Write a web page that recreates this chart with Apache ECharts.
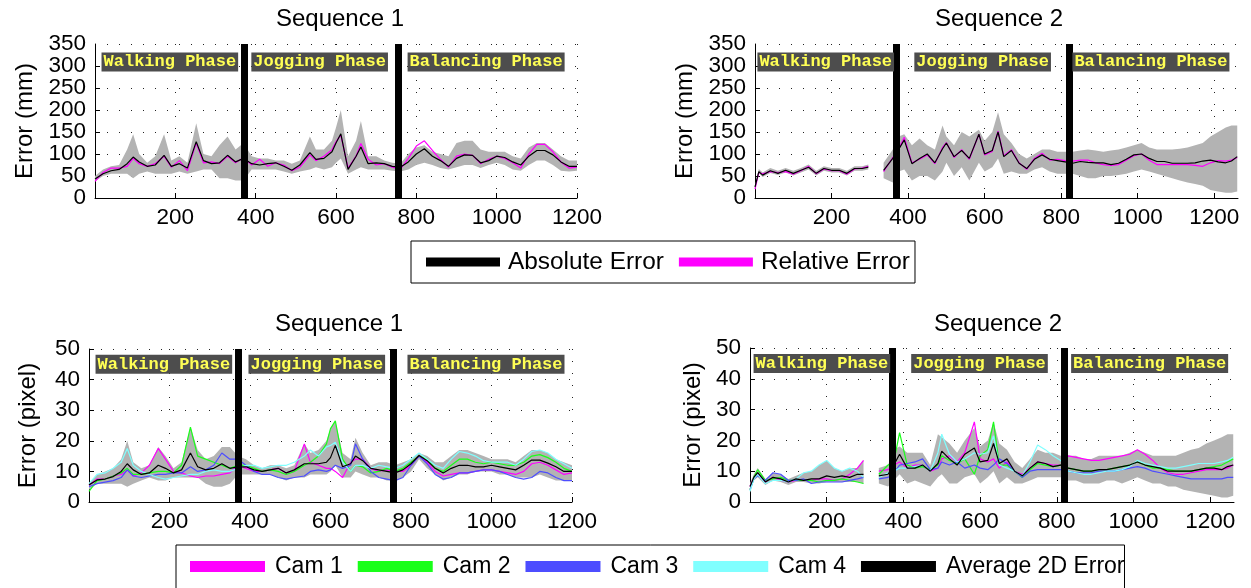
<!DOCTYPE html>
<html>
<head>
<meta charset="utf-8">
<title>Error per phase</title>
<script src="https://cdn.jsdelivr.net/npm/echarts@6.0.0/dist/echarts.min.js"></script>
<style>
html,body{margin:0;padding:0;width:100%;height:100%;background:#fff;}
#main{width:1251px;height:588px;}
</style>
</head>
<body>
<div id="main"></div>
<script>
// ---- frames (x values) ----
var framesS1 = [0,20,40,60,80,95,110,130,
  150,172,190,210,230,252,270,290,
  310,330,350,370,390,410,430,450,
  470,490,510,535,550,570,590,600,
  612,630,650,662,680,700,720,740,
  760,780,800,820,840,860,880,900,
  920,940,960,980,1000,1020,1040,1060,
  1080,1100,1120,1140,1160,1180,1200];
var framesS2 = [0,10,20,40,60,80,100,120,
  140,160,180,200,220,240,260,280,
  296,316,336,360,375,390,410,430,
  450,470,490,500,520,540,560,585,
  600,620,635,650,670,690,710,730,
  750,770,790,810,830,850,870,890,
  910,930,950,970,990,1010,1030,1050,
  1070,1090,1110,1130,1150,1170,1190,1210,
  1230,1245,1260];

// ---- 3D error (mm) ----
var s1AbsErr = [43,55,62,65,78,93,82,72,
  75,97,72,78,68,128,85,78,
  80,97,82,90,78,75,78,80,
  72,63,75,103,88,90,105,125,
  146,65,95,116,78,80,78,72,
  70,82,100,112,95,85,72,90,
  98,97,80,85,95,92,82,75,
  95,108,108,98,82,72,72];
var s1RelErr = [38,58,68,68,72,90,78,72,
  78,95,70,85,62,125,80,82,
  78,95,80,92,75,88,72,80,
  75,62,70,98,85,95,110,128,
  143,68,95,124,88,75,78,70,
  65,90,118,130,108,88,70,95,
  100,97,78,88,95,90,80,68,
  100,122,122,105,82,68,70];
var s1BandLo3d = [38,50,55,55,55,45,55,60,
  55,55,55,60,55,60,65,65,
  45,45,40,40,65,65,65,65,
  60,55,60,65,70,65,70,80,
  90,55,65,70,65,65,65,62,
  60,65,75,80,75,68,65,70,
  75,75,68,75,80,75,65,62,
  75,85,85,75,62,60,62];
var s1BandHi3d = [50,65,72,75,110,145,100,80,
  95,145,85,95,80,170,100,95,
  120,140,110,125,95,90,90,85,
  85,78,85,140,110,110,130,160,
  200,95,130,175,95,95,85,80,
  78,100,115,120,105,100,95,125,
  130,130,110,105,105,105,95,90,
  115,125,125,110,95,85,85];

var s2AbsErr = [25,60,52,62,56,63,56,63,
  70,56,67,63,63,56,67,67,
  70,null,63,90,110,132,78,90,
  100,80,112,125,94,108,90,145,
  100,108,150,94,108,79,67,88,
  98,88,85,82,79,83,81,80,
  80,76,79,88,98,100,90,83,
  83,79,79,79,80,84,86,82,
  80,84,94];
var s2RelErr = [20,58,55,60,58,60,54,62,
  72,55,66,62,62,54,66,68,
  72,null,60,92,112,138,80,88,
  98,78,115,126,92,110,88,145,
  98,106,152,96,110,80,65,90,
  102,86,88,85,84,86,86,80,
  76,74,76,86,96,100,86,76,
  76,76,76,76,74,72,80,85,
  84,86,92];
var s2BandLo3d = [18,56,48,57,52,58,51,58,
  65,51,62,58,58,51,62,62,
  65,null,45,35,60,65,40,50,
  50,40,60,80,50,70,40,80,
  60,70,90,55,60,55,55,65,
  70,60,55,55,55,50,45,45,
  50,50,52,55,60,65,60,55,
  50,45,40,35,32,28,18,15,
  12,12,15];
var s2BandHi3d = [28,66,58,68,62,68,62,68,
  76,62,72,68,68,62,72,72,
  76,null,80,110,140,145,120,135,
  120,110,165,140,120,150,140,155,
  130,150,195,145,125,100,90,100,
  110,110,105,105,105,108,110,108,
  105,108,110,115,120,125,115,110,
  110,110,112,115,120,125,140,150,
  160,165,165];

// ---- 2D error (pixel) ----
var s1Cam1 = [5.5,7.5,7.5,8.5,9,10.5,8.5,9.5,
  12,17.5,14,10,9.5,8.5,8,8.5,
  8.5,9,9.5,12,11,10,10,10.5,
  11,9.5,10,19,13,12,11,11,
  10,8,13,14,14,11,10,10.5,
  10,10,12,15,13,10,8.5,9,
  9.5,9.5,10,10.5,10.5,10,9.5,9,
  10,12.5,13,12,10.5,9,9.5];
var s1Cam2 = [3.5,7,7.5,8.5,9.5,11,9,9,
  9.5,10,10,9.5,12,24.5,15,14,
  13,12,11,12,12,11,10,10.5,
  10,9,10,12,13,15,19,24,
  26.5,14,10,12,11.5,9.5,10,11,
  10,11,13,15,14,11,10,12,
  14,14,13,12.5,13,12.5,12,12,
  13,15,15.5,14.5,13,11,10];
var s1Cam3 = [5,6,6.5,7,8,10.5,8.5,8,
  8.5,9,9,9.5,9.5,11.5,10,10.5,
  12,16,14,14,12,10,9,9,
  8,7.5,8,8.5,10,10.5,10,10.5,
  12,11,12,19,14,10,8,7.5,
  7,8,12,15,12.5,9,7.5,8,
  9.5,9.5,10,10.5,10.5,10,9,8,
  7.5,8,10,9.5,8,7,7];
var s1Cam4 = [6,9,9.5,11,13,17.5,12,10,
  9,8,7.5,8,8.5,9,9,10,
  10.5,10,10,11,12,12,11,11.5,
  12,12,13,15,17,15,18,18.5,
  19.5,13,10,12,12,11,12,11.5,
  11,12,14,16,14,12,11,14,
  16.5,16,15,13.5,13,13,13,12,
  14,16.5,17,16,14,12.5,11];
var s1Avg2d = [5.6,7.2,7.5,8.3,10,12.5,10.5,9,
  9.5,12,11,9.5,10.5,16,11.5,10.5,
  11,12.5,11,11.5,11.5,10.5,10,10.5,
  11,9.5,10.5,12.5,12.5,12.5,13,14.5,
  18.5,11.5,12.5,15,13.5,11,10.5,10,
  9.5,10.5,12.5,15.2,13.5,11,9.5,11,
  12,12,11.5,11.5,12,11.5,11,10.5,
  12,13.7,13.7,12.7,11.5,10,10];
var s1BandLo2d = [4,6,6,6,6,5,6,7,
  8,7,7,8,8,8,8,6,
  5,5,6,9,9,9,9,9,
  8,7,8,8,9,9,9,10,
  12,8,8,10,9,8,8,7,
  7,8,10,14,11,9,7,8,
  9,9,10,10,10,9,9,8,
  8,8,9,8,7,7,7];
var s1BandHi2d = [6,9,10,11,14,20,13,11,
  12,18,15,11,13,24.5,17,14,
  15,18,18,15,14,12,11,12,
  12,11,12,19,16,17,20,24,
  26.5,16,14,21,16,12,13,13,
  12,13,14,16,15,13,13,15,
  17,17,16,15,14,14,14,13,
  15,17,17,16,14,13,12];

var s2Cam1 = [5,8,9,6.5,8,7,6.5,7,
  7,7,7.5,7.5,7,7.5,9,11,
  13.5,null,10,10.5,12,13,11,12,
  12,10,11,14,15,13,16,26,
  14,13,14,11,13,10,9,11,
  13,12.5,12,12,15,14.5,14,13.5,
  13.5,14,14.5,15,15.5,17,15.5,13.5,
  11,9.5,9,9,9.5,10,10.5,10.5,
  10.5,11,12];
var s2Cam2 = [4,8,10.5,7,7.5,8,7,7,
  7,7,6.5,7,7,7.5,7,6.5,
  6,null,9,12,13,22.5,12,11,
  11.5,10.5,12,15,13.5,12.5,14,9,
  15,17,26,12,12,10,8,10.5,
  12.5,12,11.5,12,11,10.5,10,10,
  10.5,10.5,11,11.5,12,13,12,11,
  11,10.5,10,10,10,10.5,11,11.5,
  12,13,14];
var s2Cam3 = [4,7.5,8.5,7,9.5,9,7,7,
  7.5,6,6.5,6.5,6.5,6.5,7,7.5,
  8,null,7.5,8,9.5,12,12.5,13,
  14,10.5,11,13,12,13,11,12,
  11,10.5,12,14,12.5,10,8,10,
  10.5,10.5,10.5,10.5,10,9.5,9.5,9.5,
  10,10,10,10.5,11,11.5,11,10,
  9.5,9,8.5,8,7.5,7.5,7.5,7.5,
  7.5,8,8];
var s2Cam4 = [3.5,7.5,9,6,7,7,6.5,7.5,
  9.5,10,12,13.5,11,10,11,10,
  8,null,8,9.5,10,11,11,11.5,
  12,10,16,22,15.5,13,14,16,
  15.5,16,21.5,12,11,10,8.5,13,
  18.5,17,15,13.5,10,9.5,9,9,
  9.5,10,10,10.5,11.5,13.5,12.5,12,
  11.5,11,11,11.5,12,12.5,12.5,12.5,
  13,13.5,14.5];
var s2Avg2d = [5,8,9.5,6.5,8,7.5,6.5,7.5,
  7,7.5,7.5,8.5,8,8.5,8,9,
  9,null,8.5,9,12,15.5,11,11,
  12,10,12.5,16.5,14,12,15.5,17.5,
  13,13.5,19,12.5,14,10,8.5,11,
  13,12.5,11.5,12,11,10.5,10,10,
  10.5,10.5,11,11.5,12,13,12,11.5,
  11,10,10,10,10,10.5,11,11,
  10.5,11.5,12];
var s2BandLo2d = [3,7,8,5.5,7,6.5,5.5,6.5,
  6.5,6,6,6.5,6.5,6.5,6.5,6.5,
  6,null,6,5,7,9,6,7,
  6,5,8,9,6,6,8,9,
  6,8,10,6,8,6,6,7,
  8,8,8,8,7,7,6,6,
  6,7,7,6,7,8,7,6,
  6,5,5,4,3.5,3,2.5,2,
  1.5,1.5,2];
var s2BandHi2d = [6,9,11,7.5,9.5,9,7.5,8.5,
  9.5,10,12,13.5,11,10,11,11,
  13.5,null,11,12,17,18,16,16,
  16,12,22,21,19,16,20,24,
  18,20,26,19,17,13,11,14,
  17,16,16,15,15,15,14,14,
  15,15,15,15,16,17,16,15,
  15,15,15,16,17,17.5,19,20,
  21,22,22];

// ---- phases ----
var phaseNames = ['Walking Phase', 'Jogging Phase', 'Balancing Phase'];
var s1PhaseBounds = [372, 755];
var s2PhaseBounds = [370, 820];
var phaseLabelX = [[15, 388, 777], [5, 415, 828], [15, 395, 790], [8, 419, 836]];

var FONT = 'Liberation Sans, Arial, Helvetica, sans-serif';
var C_MAG = '#ff00ff', C_GRN = '#19ff19', C_BLU = '#4d4dff', C_CYN = '#80ffff', C_BLK = '#000000', C_BAND = '#b3b3b3';
var tickLabel = { color: '#000', fontSize: 22.5, fontFamily: FONT };

var myChart = echarts.init(document.getElementById('main'));

function pairs(frames, vals) {
  return frames.map(function (f, i) { return [f, vals[i] == null ? '-' : vals[i]]; });
}

function bandSeries(gi, frames, lo, hi) {
  return {
    type: 'custom', xAxisIndex: gi, yAxisIndex: gi, silent: true, z: 1,
    data: frames.map(function (f, i) { return [f, lo[i] == null ? '-' : lo[i], hi[i] == null ? '-' : hi[i]]; }),
    encode: { x: 0, y: [1, 2] },
    renderItem: function (params, api) {
      if (params.dataIndex !== 0) return;
      var segs = [], cur = [];
      frames.forEach(function (f, i) {
        if (lo[i] == null) { if (cur.length) segs.push(cur); cur = []; }
        else cur.push(i);
      });
      if (cur.length) segs.push(cur);
      return {
        type: 'group',
        children: segs.map(function (seg) {
          var pts = seg.map(function (i) { return api.coord([frames[i], hi[i]]); })
            .concat(seg.slice().reverse().map(function (i) { return api.coord([frames[i], lo[i]]); }));
          return { type: 'polygon', shape: { points: pts }, style: { fill: C_BAND, stroke: null } };
        })
      };
    }
  };
}

function lineSeries(name, gi, frames, vals, color) {
  return {
    type: 'line', name: name, xAxisIndex: gi, yAxisIndex: gi,
    data: pairs(frames, vals), showSymbol: false, symbol: 'none', silent: true, z: 3,
    lineStyle: { color: color, width: 1.2 }, itemStyle: { color: color }
  };
}

// black series carries the phase bars and labels
function withPhases(s, bounds, labelX, labelY) {
  s.markLine = {
    silent: true, symbol: ['none', 'none'], label: { show: false },
    lineStyle: { color: '#000', width: 7, type: 'solid' },
    data: bounds.map(function (b) { return { xAxis: b }; })
  };
  s.markPoint = {
    silent: true, symbol: 'rect', symbolSize: 1, itemStyle: { color: 'rgba(0,0,0,0)' },
    label: {
      show: true, position: 'right', distance: 0, formatter: '{b}',
      color: '#ffff55', backgroundColor: '#4d4d4d',
      fontFamily: 'Liberation Mono, Courier New, monospace', fontWeight: 'bold',
      fontSize: 17, lineHeight: 18, padding: [1, 2, 0, 2]
    },
    data: phaseNames.map(function (n, i) { return { name: n, coord: [labelX[i], labelY] }; })
  };
  return s;
}

function xAxisFor(gi, max, showMax) {
  return {
    type: 'value', gridIndex: gi, min: 0, max: max, interval: 200,
    axisLine: { show: true, onZero: false, lineStyle: { color: '#000', width: 1 } },
    axisTick: { show: true, inside: true, length: 5, lineStyle: { color: '#000' } },
    axisLabel: Object.assign({
      showMinLabel: false, showMaxLabel: showMax, margin: 8,
      formatter: function (v) { return v === 0 ? '' : String(v); }
    }, tickLabel),
    splitLine: { show: true, showMinLine: false, showMaxLine: showMax, lineStyle: { color: '#222', type: [1, 11], width: 1 } }
  };
}

// main y axis; when ends is false the end labels come from a second axis
function yAxisFor(gi, max, interval, name, gap, ends) {
  return {
    type: 'value', gridIndex: gi, position: 'left', min: 0, max: max, interval: interval,
    name: name, nameLocation: 'middle', nameGap: gap,
    nameTextStyle: { color: '#000', fontSize: 24, fontFamily: FONT },
    axisLine: { show: true, onZero: false, lineStyle: { color: '#000', width: 1 } },
    axisTick: { show: true, inside: true, length: 5, lineStyle: { color: '#000' } },
    axisLabel: Object.assign({
      showMinLabel: ends, showMaxLabel: ends, margin: 9,
      formatter: function (v) { return String(v); }
    }, tickLabel),
    splitLine: { show: true, showMinLine: false, lineStyle: { color: '#222', type: [1, 11], width: 1 } }
  };
}

function yEndLabels(gi, max) {
  return {
    type: 'value', gridIndex: gi, position: 'left', offset: 0, min: 0, max: max, interval: max,
    axisLine: { show: false }, axisTick: { show: false }, splitLine: { show: false },
    axisLabel: Object.assign({
      showMinLabel: true, showMaxLabel: true, margin: 9,
      formatter: function (v) { return String(v); }
    }, tickLabel)
  };
}

function titleAt(text, x, y) {
  return { text: text, left: x, top: y, textAlign: 'center',
    textStyle: { color: '#000', fontSize: 24, fontWeight: 'normal', fontFamily: FONT } };
}

var series = [
  bandSeries(0, framesS1, s1BandLo3d, s1BandHi3d),
  lineSeries('Relative Error', 0, framesS1, s1RelErr, C_MAG),
  withPhases(lineSeries('Absolute Error', 0, framesS1, s1AbsErr, C_BLK), s1PhaseBounds, phaseLabelX[0], 309),

  bandSeries(1, framesS2, s2BandLo3d, s2BandHi3d),
  lineSeries('Relative Error', 1, framesS2, s2RelErr, C_MAG),
  withPhases(lineSeries('Absolute Error', 1, framesS2, s2AbsErr, C_BLK), s2PhaseBounds, phaseLabelX[1], 309),

  bandSeries(2, framesS1, s1BandLo2d, s1BandHi2d),
  lineSeries('Cam 1', 2, framesS1, s1Cam1, C_MAG),
  lineSeries('Cam 2', 2, framesS1, s1Cam2, C_GRN),
  lineSeries('Cam 3', 2, framesS1, s1Cam3, C_BLU),
  lineSeries('Cam 4', 2, framesS1, s1Cam4, C_CYN),
  withPhases(lineSeries('Average 2D Error', 2, framesS1, s1Avg2d, C_BLK), s1PhaseBounds, phaseLabelX[2], 45),

  bandSeries(3, framesS2, s2BandLo2d, s2BandHi2d),
  lineSeries('Cam 1', 3, framesS2, s2Cam1, C_MAG),
  lineSeries('Cam 2', 3, framesS2, s2Cam2, C_GRN),
  lineSeries('Cam 3', 3, framesS2, s2Cam3, C_BLU),
  lineSeries('Cam 4', 3, framesS2, s2Cam4, C_CYN),
  withPhases(lineSeries('Average 2D Error', 3, framesS2, s2Avg2d, C_BLK), s2PhaseBounds, phaseLabelX[3], 45)
];

myChart.setOption({
  animation: false,
  backgroundColor: '#fff',
  title: [
    titleAt('Sequence 1', 335, 2),
    titleAt('Sequence 2', 994, 2),
    titleAt('Sequence 1', 334, 307),
    titleAt('Sequence 2', 993, 307)
  ],
  legend: [{
    data: ['Absolute Error', 'Relative Error'],
    left: 411, top: 241, orient: 'horizontal', icon: 'rect',
    itemWidth: 74, itemHeight: 9, itemGap: 15, selectedMode: false,
    padding: [9, 5, 9, 15], borderColor: '#000', borderWidth: 1,
    textStyle: { color: '#000', fontSize: 24.4, fontFamily: FONT, padding: [0, 0, 0, 3] }
  }, {
    data: ['Cam 1', 'Cam 2', 'Cam 3', 'Cam 4', 'Average 2D Error'],
    left: 176, top: 545, orient: 'horizontal', icon: 'rect',
    itemWidth: 75, itemHeight: 11, itemGap: 15, selectedMode: false,
    padding: [10, 0, 20, 14], borderColor: '#000', borderWidth: 1,
    textStyle: { color: '#000', fontSize: 23, fontFamily: FONT, padding: [0, 0, 0, 5] }
  }],
  grid: [
    { left: 95, top: 44, width: 482, height: 154, outerBoundsMode: 'none' },
    { left: 755, top: 44, width: 483, height: 154, outerBoundsMode: 'none' },
    { left: 89, top: 349, width: 483, height: 153, outerBoundsMode: 'none' },
    { left: 750, top: 348, width: 484, height: 154, outerBoundsMode: 'none' }
  ],
  xAxis: [
    xAxisFor(0, 1200, true),
    xAxisFor(1, 1262, false),
    xAxisFor(2, 1200, true),
    xAxisFor(3, 1262, false)
  ],
  yAxis: [
    yAxisFor(0, 350, 50, 'Error (mm)', 58, false),
    yAxisFor(1, 350, 50, 'Error (mm)', 58, false),
    yAxisFor(2, 50, 10, 'Error (pixel)', 49, true),
    yAxisFor(3, 50, 10, 'Error (pixel)', 45, true),
    yEndLabels(0, 350),
    yEndLabels(1, 350)
  ],
  series: series
});

window.addEventListener('resize', function () {
  myChart.resize();
});
</script>
</body>
</html>
